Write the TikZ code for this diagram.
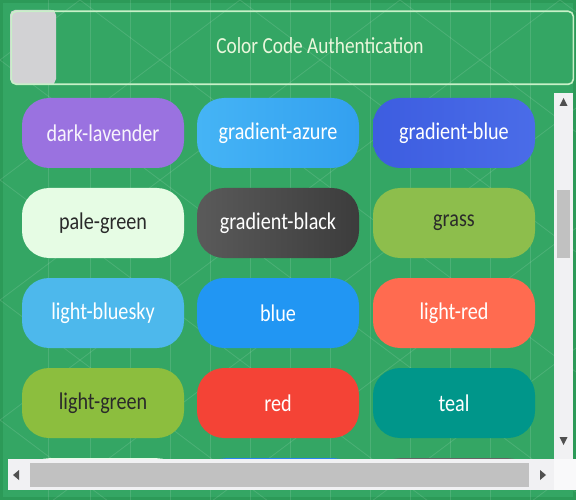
\documentclass[tikz,border=0pt]{standalone}
\usepackage{fontspec}
\setmainfont[FakeStretch=0.84]{Carlito}
\usetikzlibrary{calc}
\definecolor{bgGreen}{HTML}{34A664}
\definecolor{edgeGreen}{HTML}{2C9A58}
\definecolor{headLine}{HTML}{C8F0C8}
\definecolor{headText}{HTML}{EAF7DC}
\definecolor{sqGray}{HTML}{D2D2D4}
\definecolor{track}{HTML}{F1F1F3}
\definecolor{thumb}{HTML}{C1C1C1}
\definecolor{arrowC}{HTML}{505050}
\definecolor{cLavender}{HTML}{9A72E0}
\definecolor{cAzureA}{HTML}{45B4F5}
\definecolor{cAzureB}{HTML}{33A0F0}
\definecolor{cBlueA}{HTML}{3D5DE0}
\definecolor{cBlueB}{HTML}{4A6CE8}
\definecolor{cPale}{HTML}{E6FCE4}
\definecolor{cBlackA}{HTML}{5A5A5A}
\definecolor{cBlackB}{HTML}{3C3C3C}
\definecolor{cGrass}{HTML}{8DBE4C}
\definecolor{cSky}{HTML}{4DB8EC}
\definecolor{cBlue}{HTML}{2196F3}
\definecolor{cLightRed}{HTML}{FF6B50}
\definecolor{cLightGreen}{HTML}{8CBE3E}
\definecolor{cRed}{HTML}{F44336}
\definecolor{cTeal}{HTML}{00968A}
\definecolor{darkText}{HTML}{2A2A2A}
\tikzset{
  x=1pt, y=-1pt,
  chip/.style={rounded corners=27pt, minimum width=162pt, minimum height=70pt,
    inner sep=0pt, font=\fontsize{24}{28}\selectfont, text=white},
  pattern line/.style={draw=white, opacity=0.12, line width=0.8pt},
  tri/.style={fill=arrowC, draw=none},
}
\begin{document}
\begin{tikzpicture}
\useasboundingbox (0,0) rectangle (576,500);
% backdrop and faint geometric texture
\fill[bgGreen] (0,0) rectangle (576,500);
\draw[edgeGreen, line width=3pt] (1.5,1.5) rectangle (574.5,498.5);
\foreach \x in {48,90,130,170,210,250,290,330,370,410,450,490,530}
  \draw[pattern line] (\x,0) -- (\x,500);
\foreach \y in {0,120,240,360,480}{
  \foreach \x in {0,160,320,480}{
    \draw[pattern line] (\x,\y+60) -- (\x+80,\y) -- (\x+160,\y+60);
    \draw[pattern line] (\x,\y+60) -- (\x+80,\y+120) -- (\x+160,\y+60);
  }
}
% header bar
\fill[sqGray, rounded corners=5pt] (10,10) rectangle (56,84);
\fill[sqGray] (40,10) rectangle (54,84);
\node[draw=headLine, line width=1.6pt, rounded corners=5pt,
  minimum width=562pt, minimum height=73pt, inner sep=0pt, anchor=north west]
  (head) at (10.5,10.5) {};
\node[text=headText, font=\fontsize{23}{27}\selectfont] (title) at (320,46) {Color Code Authentication};
% fifth row, only its top edge shows above the scrollbar
\begin{scope}
  \clip (0,0) rectangle (576,462);
  \node[chip, fill=cPale, anchor=north] (r5a) at (103,458) {};
  \node[chip, fill=cBlue!70!cBlueA, anchor=north] (r5b) at (280,458) {};
  \node[chip, fill=gray!80!black, anchor=north] (r5c) at (454,458) {};
\end{scope}
% colour chips
\node[chip, fill=cLavender, text=white!92!cLavender] (lav) at (103,133) {dark-lavender};
\node[chip, left color=cAzureA, right color=cAzureB] (azure) at (278,133) {gradient-azure};
\node[chip, left color=cBlueA, right color=cBlueB] (gblue) at (454,133) {gradient-blue};
\node[chip, fill=cPale, text=darkText] (pale) at (103,223) {pale-green};
\node[chip, left color=cBlackA, right color=cBlackB] (gblack) at (278,223) {gradient-black};
\node[chip, fill=cGrass, text=darkText] (grass) at (454,223) {grass};
\node[chip, fill=cSky] (sky) at (103,313) {light-bluesky};
\node[chip, fill=cBlue] (blue) at (278,313) {blue};
\node[chip, fill=cLightRed] (lred) at (454,313) {light-red};
\node[chip, fill=cLightGreen, text=darkText] (lgreen) at (103,403) {light-green};
\node[chip, fill=cRed] (red) at (278,403) {red};
\node[chip, fill=cTeal] (teal) at (454,403) {teal};
% vertical scrollbar
\fill[track] (554,93) rectangle (573,459);
\fill[thumb] (557,190) rectangle (570,258);
\fill[tri] (559.5,106) -- (567.5,106) -- (563.5,98) -- cycle;
\fill[tri] (559.5,437) -- (567.5,437) -- (563.5,445) -- cycle;
% horizontal scrollbar
\fill[track] (8,459) rectangle (556,490);
\fill[white!60!track] (554,459) rectangle (576,490);
\fill[thumb] (30,463) rectangle (529,487);
\fill[tri] (19,470) -- (19,480) -- (13,475) -- cycle;
\fill[tri] (540,470) -- (540,480) -- (546,475) -- cycle;
\end{tikzpicture}
\end{document}
